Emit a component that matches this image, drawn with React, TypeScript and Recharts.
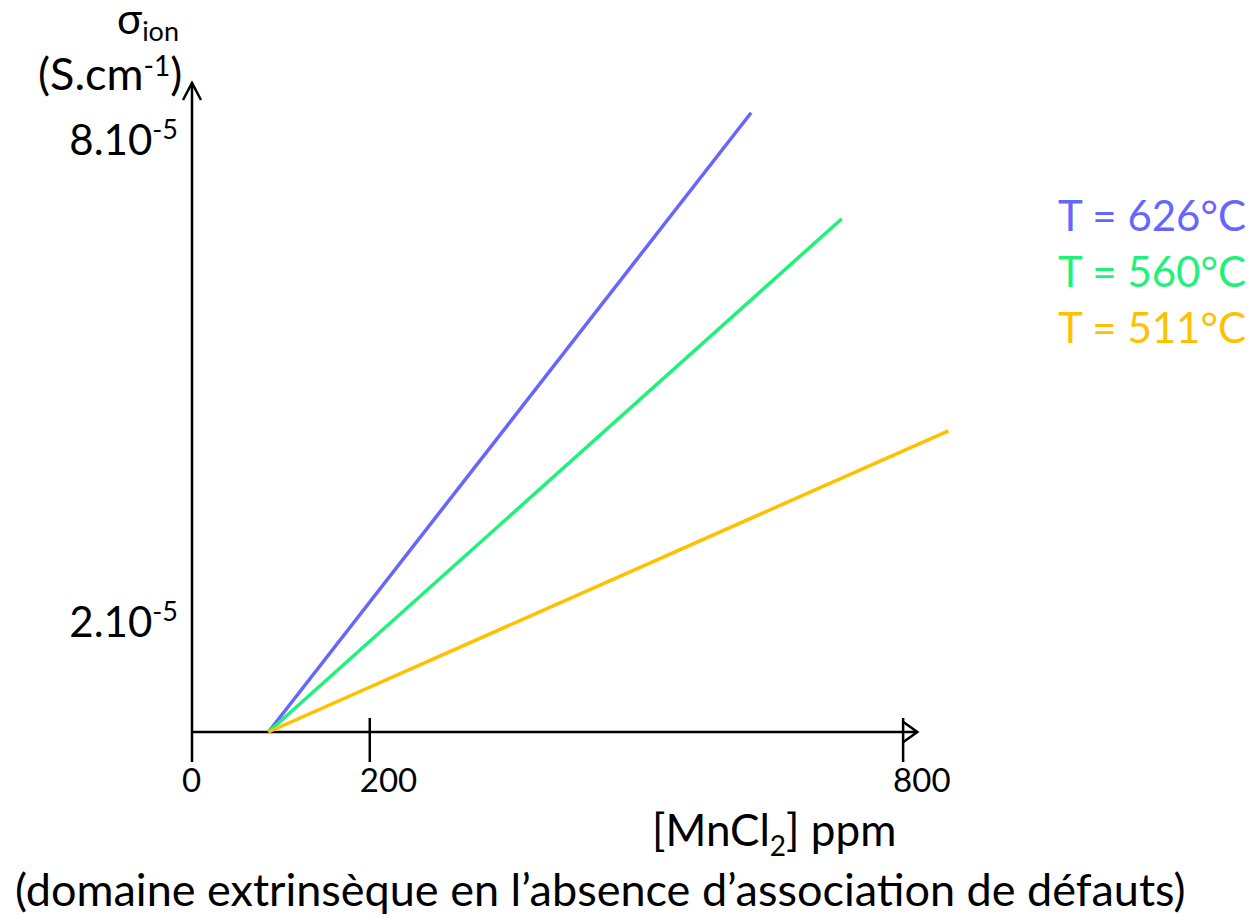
import { LineChart, Line, XAxis, YAxis, ReferenceLine, Legend } from "recharts";

// σ_ion (units of 1e-5 S/cm) vs [MnCl2] (ppm)
const ppm626 = [86, 629];
const sigma626 = [0.62, 8.33];
const ppm560 = [86, 731];
const sigma560 = [0.62, 7.01];
const ppm511 = [86, 851];
const sigma511 = [0.62, 4.37];

const seriesNames = ["T = 626°C", "T = 560°C", "T = 511°C"];
const xTicks = [0, 200, 800];
const yTicks = [2, 8];

const COLORS = ["#6666FF", "#1FF27A", "#FFC000"];
const FONT = "Lato, 'Noto Sans', sans-serif";

const X_DOMAIN: [number, number] = [0, 900];
const Y_DOMAIN: [number, number] = [0.62, 8.7];
const X_AXIS_END = 816;

const toRows = (xs: number[], ys: number[]) => xs.map((x, i) => ({ x, y: ys[i] }));

const series = [
  { name: seriesNames[0], rows: toRows(ppm626, sigma626), color: COLORS[0] },
  { name: seriesNames[1], rows: toRows(ppm560, sigma560), color: COLORS[1] },
  { name: seriesNames[2], rows: toRows(ppm511, sigma511), color: COLORS[2] },
];

function XTick({ x, y, payload }: any) {
  const v = payload.value;
  return (
    <g>
      <line x1={x} x2={x} y1={v === 0 ? y : y - 14} y2={y + 30} stroke="#000" strokeWidth={2.5} />
      <text x={x - 10} y={y + 60} textAnchor="start" fontFamily={FONT} fontSize={33} fill="#000">
        {v}
      </text>
    </g>
  );
}

function YTick({ x, y, payload }: any) {
  return (
    <text x={x - 14} y={y + 16} textAnchor="end" fontFamily={FONT} fontSize={42} fill="#000">
      {payload.value}.10
      <tspan fontSize={27} dy={-16}>-5</tspan>
    </text>
  );
}

function HArrow({ x1, y1, x2, y2 }: any) {
  return (
    <g stroke="#000" strokeWidth={2.5} fill="none">
      <line x1={x1} y1={y1} x2={x2} y2={y2} />
      <polyline points={`${x2 - 14},${y2 - 10} ${x2},${y2} ${x2 - 14},${y2 + 10}`} />
    </g>
  );
}

function VArrow({ x1, y1, x2, y2 }: any) {
  const top = Math.min(y1, y2);
  const bottom = Math.max(y1, y2);
  return (
    <g stroke="#000" strokeWidth={2.5} fill="none">
      <line x1={x1} y1={bottom} x2={x2} y2={top} />
      <polyline points={`${x2 - 9},${top + 17} ${x2},${top} ${x2 + 9},${top + 17}`} />
    </g>
  );
}

function LegendList({ payload }: any) {
  const items = [...(payload || [])].sort(
    (a: any, b: any) => seriesNames.indexOf(a.value) - seriesNames.indexOf(b.value)
  );
  return (
    <div style={{ fontFamily: FONT, fontSize: 42, lineHeight: "56px", whiteSpace: "nowrap" }}>
      {items.map((p: any) => (
        <div key={p.value} style={{ color: p.color }}>
          {p.value}
        </div>
      ))}
    </div>
  );
}

export default function App() {
  return (
    <div style={{ position: "absolute", left: 0, top: 0, background: "#fff" }}>
      <LineChart width={1248} height={917} margin={{ top: 83, right: 256, bottom: 125, left: 42 }}>
        <XAxis
          type="number"
          dataKey="x"
          domain={X_DOMAIN}
          ticks={xTicks}
          axisLine={false}
          tickLine={false}
          tickSize={0}
          tickMargin={0}
          height={60}
          tick={<XTick />}
          allowDecimals={false}
        />
        <YAxis
          type="number"
          domain={Y_DOMAIN}
          ticks={yTicks}
          axisLine={false}
          tickLine={false}
          tickSize={0}
          tickMargin={0}
          width={150}
          tick={<YTick />}
        />
        <ReferenceLine
          segment={[{ x: 0, y: Y_DOMAIN[0] }, { x: X_AXIS_END, y: Y_DOMAIN[0] }]}
          ifOverflow="visible"
          shape={(p: any) => <HArrow {...p} />}
        />
        <ReferenceLine
          segment={[{ x: 0, y: Y_DOMAIN[0] }, { x: 0, y: Y_DOMAIN[1] }]}
          ifOverflow="visible"
          shape={(p: any) => <VArrow {...p} />}
        />
        {series.map((s) => (
          <Line
            key={s.name}
            data={s.rows}
            dataKey="y"
            name={s.name}
            stroke={s.color}
            strokeWidth={3.5}
            dot={false}
            activeDot={false}
            isAnimationActive={false}
          />
        ))}
        <Legend
          layout="horizontal"
          verticalAlign="middle"
          align="center"
          itemSorter={null as any}
          content={<LegendList />}
          wrapperStyle={{ position: "absolute", left: 1058, top: 187, width: 190, height: 170 }}
        />
        <g fontFamily={FONT} fill="#000">
          <text x={117} y={34} fontSize={42}>
            σ<tspan fontSize={27} dy={7}>ion</tspan>
          </text>
          <text x={38} y={90} fontSize={45}>
            (S.cm<tspan fontSize={28} dy={-14}>-1</tspan>
            <tspan fontSize={45} dy={14}>)</tspan>
          </text>
          <text x={652} y={846} fontSize={44}>
            [MnCl<tspan fontSize={28} dy={10}>2</tspan>
            <tspan fontSize={44} dy={-10}>] ppm</tspan>
          </text>
          <text x={15} y={906} fontSize={45}>
            (domaine extrinsèque en l’absence d’association de défauts)
          </text>
        </g>
      </LineChart>
    </div>
  );
}
